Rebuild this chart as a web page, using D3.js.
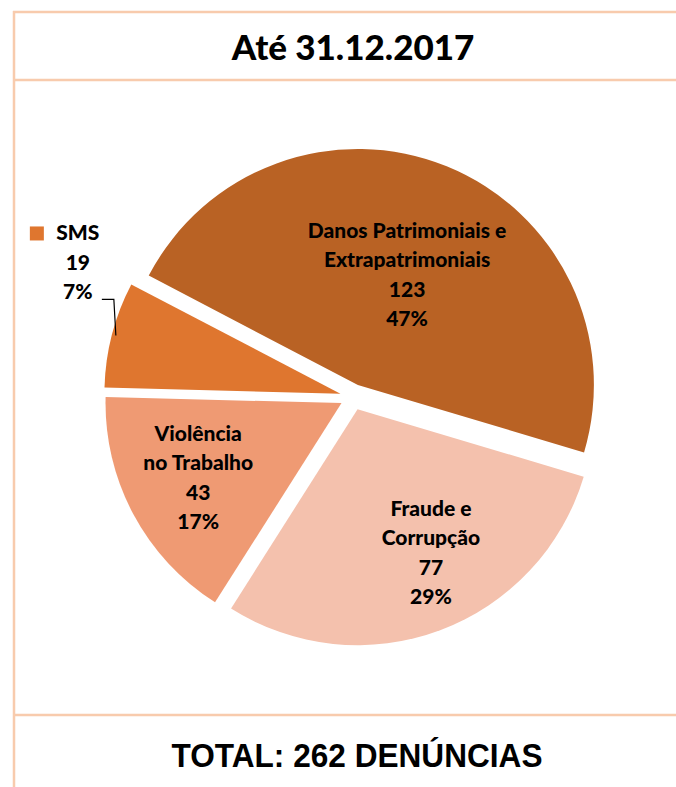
<!DOCTYPE html>
<html>
<head>
<meta charset="utf-8">
<script src="https://cdn.jsdelivr.net/npm/d3@7"></script>
<style>
  body { margin: 0; background: #fff; }
</style>
</head>
<body>
<script>
let width = 676;
let height = 787;

// data
let categories = ["Danos Patrimoniais e Extrapatrimoniais", "Fraude e Corrupção", "Violência no Trabalho", "SMS"];
let labelLines = [["Danos Patrimoniais e", "Extrapatrimoniais"], ["Fraude e", "Corrupção"], ["Violência", "no Trabalho"], ["SMS"]];
let counts = [123, 77, 43, 19];
let percents = ["47%", "29%", "17%", "7%"];
let colors = ["#B96224", "#F4C1AD", "#EF9A73", "#DF762F"];

let svg = d3.select("body").append("svg")
            .attr("width", width)
            .attr("height", height);

// frame
let border = "#F8CBAD";
svg.append("line").attr("x1", 13).attr("y1", 12).attr("x2", width).attr("y2", 12)
   .attr("stroke", border).attr("stroke-width", 2.5);
svg.append("line").attr("x1", 13).attr("y1", 80).attr("x2", width).attr("y2", 80)
   .attr("stroke", border).attr("stroke-width", 2.5);
svg.append("line").attr("x1", 13).attr("y1", 715).attr("x2", width).attr("y2", 715)
   .attr("stroke", border).attr("stroke-width", 2.5);
svg.append("line").attr("x1", 14).attr("y1", 11).attr("x2", 14).attr("y2", height)
   .attr("stroke", border).attr("stroke-width", 2.5);

// title
svg.append("text").attr("x", 353).attr("y", 60)
   .attr("text-anchor", "middle")
   .attr("font-family", "Lato, sans-serif")
   .attr("font-weight", 900)
   .attr("font-size", 35)
   .attr("fill", "#000")
   .text("Até 31.12.2017");

// total
svg.append("text").attr("x", 357).attr("y", 767)
   .attr("text-anchor", "middle")
   .attr("font-family", "'Liberation Sans', Arial, sans-serif")
   .attr("font-weight", "bold")
   .attr("font-size", 33)
   .attr("textLength", 371)
   .attr("lengthAdjust", "spacingAndGlyphs")
   .attr("fill", "#000")
   .text("TOTAL: " + d3.sum(counts) + " DENÚNCIAS");

// pie
let cx = 353, cy = 397, r = 236, explode = 13;
let a0 = 297.6 * Math.PI / 180;

let pie = d3.pie().sort(null).value(d => d)
            .startAngle(a0).endAngle(a0 + 2 * Math.PI);
let arcs = pie(counts);
let arc = d3.arc().innerRadius(0).outerRadius(r);

let mid = d => (d.startAngle + d.endAngle) / 2;
let offset = d => [Math.sin(mid(d)) * explode, -Math.cos(mid(d)) * explode];

let slices = svg.append("g").attr("transform", `translate(${cx},${cy})`);

slices.selectAll("path")
      .data(arcs)
      .enter()
      .append("path")
      .attr("transform", d => `translate(${offset(d)})`)
      .attr("d", arc)
      .attr("fill", (d, i) => colors[i]);

// labels inside the big slices
let lineH = 29.5;
let labelFont = 21;
let labelTurn = [2, -6.5, 0.5, 0]; // degrees, label placement nudge
arcs.forEach((d, i) => {
  if (i === 3) return;
  let big = d.endAngle - d.startAngle > Math.PI * 0.8;
  let lr = big ? r * 0.51 : r * 0.685;
  let la = mid(d) + labelTurn[i] * Math.PI / 180;
  let lx = cx + offset(d)[0] + Math.sin(la) * lr;
  let ly = cy + offset(d)[1] - Math.cos(la) * lr;
  let lines = labelLines[i].concat([String(counts[i]), percents[i]]);
  let t = svg.append("text")
             .attr("text-anchor", "middle")
             .attr("font-family", "Lato, sans-serif")
             .attr("font-weight", 900)
             .attr("font-size", labelFont)
             .attr("fill", "#000");
  lines.forEach((s, k) => {
    t.append("tspan").attr("x", lx)
     .attr("y", ly + (k - (lines.length - 1) / 2) * lineH + 7)
     .text(s);
  });
});

// SMS label outside with leader line and legend key
let sms = arcs[3];
let ex = cx + offset(sms)[0] + Math.sin(mid(sms)) * (r - 4);
let ey = cy + offset(sms)[1] - Math.cos(mid(sms)) * (r - 4);
let elbowY = ey - 36;
svg.append("polyline")
   .attr("points", `${ex},${ey} ${ex - 2},${elbowY} ${ex - 14},${elbowY}`)
   .attr("fill", "none")
   .attr("stroke", "#000")
   .attr("stroke-width", 1.2);

let tx = ex - 38;
let smsLines = [labelLines[3][0], String(counts[3]), percents[3]];
let st = svg.append("text")
            .attr("text-anchor", "middle")
            .attr("font-family", "Lato, sans-serif")
            .attr("font-weight", 900)
            .attr("font-size", labelFont)
            .attr("fill", "#000");
smsLines.forEach((s, k) => {
  st.append("tspan").attr("x", tx)
    .attr("y", elbowY - (2 - k) * lineH)
    .text(s);
});
svg.append("rect")
   .attr("x", tx - 48).attr("y", elbowY - 2 * lineH - 14)
   .attr("width", 14).attr("height", 14)
   .attr("fill", colors[3]);
</script>
</body>
</html>
